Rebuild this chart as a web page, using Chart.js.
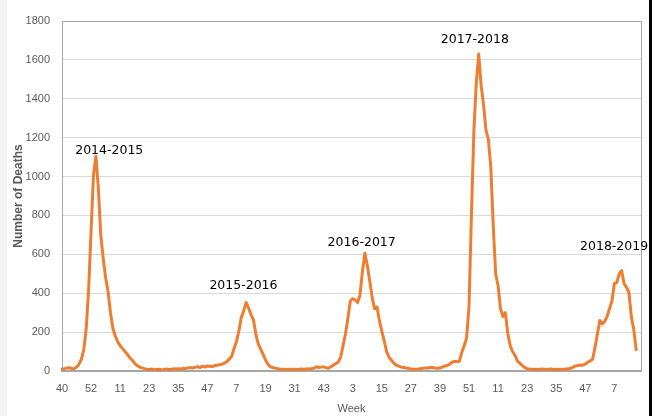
<!DOCTYPE html>
<html>
<head>
<meta charset="utf-8">
<script src="https://cdn.jsdelivr.net/npm/chart.js@4/dist/chart.umd.min.js"></script>
<style>
  html, body { margin: 0; padding: 0; background: #ffffff; }
  canvas { display: block; }
</style>
</head>
<body>
<canvas id="c" width="655" height="416"></canvas>
<script>
// MMWR week spans: [year, first week, last week]
const weekSpans = [[2014, 40, 53], [2015, 1, 52], [2016, 1, 52], [2017, 1, 52], [2018, 1, 52], [2019, 1, 18]];
const weekLabels = [];
weekSpans.forEach(([yr, a, b]) => { for (let w = a; w <= b; w++) weekLabels.push(String(w)); });

// Weekly deaths, starting 2014 week 40
const deaths = [
  10, 12, 15, 17, 13, 12, 20, 35, 60, 110,
  220, 420, 720, 1010, 1105, 940, 700, 580, 480, 410,
  300, 220, 180, 150, 130, 115, 100, 85, 68, 55,
  40, 28, 20, 16, 12, 9, 8, 10, 7, 8,
  9, 7, 8, 10, 8, 9, 11, 10, 12, 10,
  14, 12, 16, 18, 15, 20, 22, 18, 25, 20,
  26, 24, 22, 28, 30, 32, 35, 40, 48, 60,
  75, 115, 150, 205, 275, 310, 352, 325, 290, 265,
  190, 140, 112, 85, 57, 35, 22, 18, 15, 12,
  10, 9, 9, 8, 9, 8, 9, 8, 9, 10,
  8, 11, 10, 12, 14, 22, 18, 20, 21, 17,
  14, 22, 30, 38, 45, 70, 130, 190, 270, 360,
  372, 365, 352, 390, 510, 605, 545, 465, 380, 320,
  330, 260, 205, 155, 100, 70, 55, 40, 30, 25,
  20, 18, 15, 14, 10, 9, 9, 10, 12, 14,
  16, 15, 18, 18, 15, 14, 15, 20, 26, 28,
  35, 45, 50, 48, 50, 95, 130, 170, 330, 800,
  1230, 1480, 1630, 1470, 1370, 1240, 1190, 1050, 750, 500,
  440, 320, 280, 300, 195, 130, 100, 80, 50, 40,
  28, 18, 12, 10, 9, 8, 9, 8, 10, 9,
  8, 9, 10, 8, 9, 8, 9, 8, 10, 11,
  14, 20, 26, 28, 31, 30, 35, 45, 52, 60,
  120, 190, 260, 242, 255, 280, 320, 360, 450, 455,
  500, 516, 450, 430, 405, 280, 215, 110
];

const yTicks = [0, 200, 400, 600, 800, 1000, 1200, 1400, 1600, 1800];

// Season label text and anchor (week index, deaths value) for each label's centre
const seasonNames = ['2014-2015', '2015-2016', '2016-2017', '2017-2018', '2018-2019'];
const seasonAnchors = [[19.5, 1132], [74.9, 437], [123.7, 658], [170.4, 1703], [227.9, 638]];

const sans = "'Liberation Sans', Arial, sans-serif";

const decor = {
  id: 'decor',
  beforeDraw(chart) {
    const ctx = chart.ctx;
    ctx.save();
    ctx.fillStyle = '#ffffff';
    ctx.fillRect(0, 0, chart.width, chart.height);
    ctx.fillStyle = '#f3f3f3';
    ctx.fillRect(0, 0, 7, chart.height);
    ctx.restore();
  },
  beforeDatasetsDraw(chart) {
    const {ctx, chartArea: a} = chart;
    ctx.save();
    ctx.strokeStyle = '#a6a6a6';
    ctx.lineWidth = 1;
    ctx.strokeRect(Math.round(a.left) + 0.5, Math.round(a.top) + 0.5, Math.round(a.right - a.left), Math.round(a.bottom - a.top));
    ctx.restore();
  },
  afterDraw(chart) {
    const {ctx} = chart;
    const xs = chart.scales.x, ys = chart.scales.y;
    ctx.save();
    ctx.font = "12.5px 'DejaVu Sans', sans-serif";
    ctx.fillStyle = '#000000';
    ctx.textAlign = 'center';
    ctx.textBaseline = 'middle';
    seasonNames.forEach((t, i) => {
      const [ix, v] = seasonAnchors[i];
      ctx.fillText(t, xs.getPixelForValue(ix), ys.getPixelForValue(v));
    });
    ctx.fillStyle = '#000000';
    ctx.fillRect(649, 0, 3, chart.height);
    ctx.restore();
  }
};

new Chart(document.getElementById('c'), {
  type: 'line',
  data: {
    labels: weekLabels,
    datasets: [{
      data: deaths,
      borderColor: '#ED7D31',
      borderWidth: 3,
      pointRadius: 0,
      pointHoverRadius: 0,
      tension: 0,
      fill: false,
      borderJoinStyle: 'round',
      borderCapStyle: 'round'
    }]
  },
  options: {
    responsive: false,
    animation: false,
    events: [],
    layout: { padding: { left: 0, right: 14, top: 21, bottom: 0 } },
    plugins: { legend: { display: false }, tooltip: { enabled: false } },
    scales: {
      x: {
        type: 'category',
        offset: false,
        grid: { display: false },
        border: { display: true, color: '#a6a6a6', width: 2 },
        ticks: {
          autoSkip: false,
          maxRotation: 0,
          minRotation: 0,
          padding: 3,
          color: '#595959',
          font: { family: sans, size: 11 },
          callback: function(v, i) { return i % 12 === 0 ? weekLabels[i] : ''; }
        },
        title: {
          display: true,
          text: 'Week',
          color: '#595959',
          font: { family: sans, size: 11 },
          padding: { top: 2, bottom: 0 }
        },
        afterFit(s) { s.height = 45; }
      },
      y: {
        min: 0,
        max: 1800,
        afterBuildTicks(s) { s.ticks = yTicks.map(v => ({ value: v })); },
        grid: { color: '#d9d9d9', lineWidth: 1, drawTicks: false },
        border: { display: true, color: '#a6a6a6', width: 1 },
        ticks: {
          padding: 12,
          color: '#595959',
          font: { family: sans, size: 11 },
          callback: function(v) { return String(v); }
        },
        title: {
          display: true,
          text: 'Number of Deaths',
          color: '#595959',
          font: { family: sans, size: 12, weight: 'bold' },
          padding: { top: 11, bottom: 0 }
        },
        afterFit(s) { s.width = 62; }
      }
    }
  },
  plugins: [decor]
});
</script>
</body>
</html>
